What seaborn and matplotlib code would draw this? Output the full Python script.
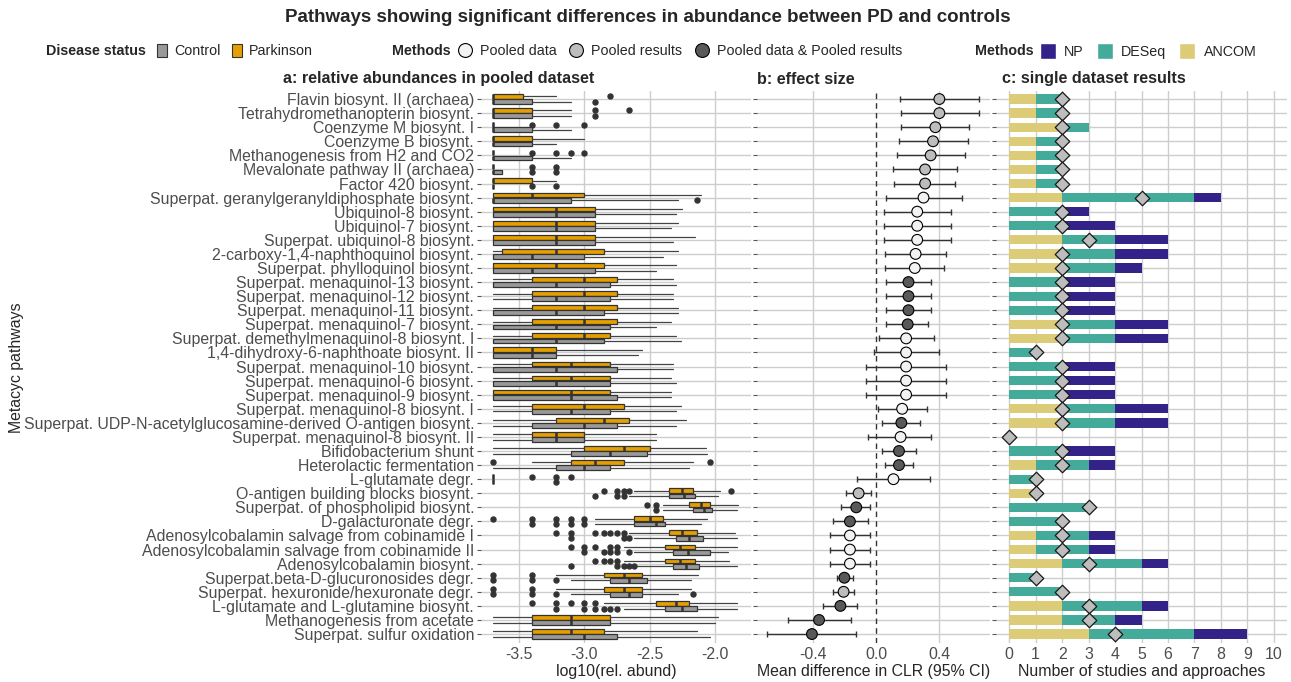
import numpy as np
import pandas as pd
import seaborn as sns
import matplotlib.pyplot as plt
from matplotlib.patches import Patch
from matplotlib.lines import Line2D

# ---- data -------------------------------------------------------------
pathways = [
    "Flavin biosynt. II (archaea)", "Tetrahydromethanopterin biosynt.",
    "Coenzyme M biosynt. I", "Coenzyme B biosynt.",
    "Methanogenesis from H2 and CO2", "Mevalonate pathway II (archaea)",
    "Factor 420 biosynt.", "Superpat. geranylgeranyldiphosphate biosynt.",
    "Ubiquinol-8 biosynt.", "Ubiquinol-7 biosynt.",
    "Superpat. ubiquinol-8 biosynt.", "2-carboxy-1,4-naphthoquinol biosynt.",
    "Superpat. phylloquinol biosynt.", "Superpat. menaquinol-13 biosynt.",
    "Superpat. menaquinol-12 biosynt.", "Superpat. menaquinol-11 biosynt.",
    "Superpat. menaquinol-7 biosynt.", "Superpat. demethylmenaquinol-8 biosynt. I",
    "1,4-dihydroxy-6-naphthoate biosynt. II", "Superpat. menaquinol-10 biosynt.",
    "Superpat. menaquinol-6 biosynt.", "Superpat. menaquinol-9 biosynt.",
    "Superpat. menaquinol-8 biosynt. I",
    "Superpat. UDP-N-acetylglucosamine-derived O-antigen biosynt.",
    "Superpat. menaquinol-8 biosynt. II", "Bifidobacterium shunt",
    "Heterolactic fermentation", "L-glutamate degr.",
    "O-antigen building blocks biosynt.", "Superpat. of phospholipid biosynt.",
    "D-galacturonate degr.", "Adenosylcobalamin salvage from cobinamide I",
    "Adenosylcobalamin salvage from cobinamide II", "Adenosylcobalamin biosynt.",
    "Superpat.beta-D-glucuronosides degr.", "Superpat. hexuronide/hexuronate degr.",
    "L-glutamate and L-glutamine biosynt.", "Methanogenesis from acetate",
    "Superpat. sulfur oxidation",
]

# panel a: box statistics, log10(rel. abund), Parkinson (pd) and Control (ctl)
pd_q1 = [-3.70, -3.70, -3.70, -3.70, -3.70, -3.70, -3.70, -3.70, -3.70, -3.70,
         -3.70, -3.63, -3.70, -3.40, -3.40, -3.40, -3.40, -3.40, -3.70, -3.40,
         -3.40, -3.70, -3.40, -3.22, -3.40, -3.00, -3.10, -3.70, -2.35, -2.20,
         -2.62, -2.35, -2.38, -2.38, -2.85, -2.85, -2.45, -3.40, -3.40]
pd_med = [-3.70, -3.70, -3.70, -3.70, -3.70, -3.70, -3.70, -3.40, -3.22, -3.22,
          -3.22, -3.22, -3.22, -3.00, -3.00, -3.00, -3.00, -3.00, -3.40, -3.10,
          -3.10, -3.10, -3.00, -2.85, -3.22, -2.70, -2.92, -3.70, -2.25, -2.11,
          -2.50, -2.25, -2.27, -2.27, -2.70, -2.70, -2.30, -3.10, -3.10]
pd_q3 = [-3.47, -3.40, -3.70, -3.40, -3.70, -3.70, -3.40, -3.00, -2.92, -2.92,
         -2.92, -2.85, -2.85, -2.75, -2.75, -2.75, -2.75, -2.80, -3.22, -2.80,
         -2.80, -2.80, -2.70, -2.66, -3.00, -2.50, -2.70, -3.70, -2.17, -2.04,
         -2.40, -2.14, -2.15, -2.15, -2.56, -2.56, -2.20, -2.80, -2.85]
pd_lo = [-3.70, -3.70, -3.70, -3.70, -3.70, -3.70, -3.70, -3.70, -3.70, -3.70,
         -3.70, -3.70, -3.70, -3.70, -3.70, -3.70, -3.70, -3.70, -3.70, -3.70,
         -3.70, -3.70, -3.70, -3.70, -3.70, -3.70, -3.40, -3.70, -2.62, -2.40,
         -2.92, -2.66, -2.70, -2.70, -3.22, -3.22, -2.85, -3.70, -3.70]
pd_hi = [-3.22, -3.10, -3.70, -3.00, -3.70, -3.70, -3.22, -2.11, -2.25, -2.28,
         -2.15, -2.28, -2.30, -2.32, -2.32, -2.28, -2.34, -2.30, -2.56, -2.32,
         -2.34, -2.34, -2.26, -2.22, -2.45, -2.07, -2.17, -3.70, -1.96, -1.82,
         -2.06, -1.85, -1.83, -1.89, -2.13, -2.18, -1.83, -1.98, -2.14]
pd_fliers = [[-2.80], [-2.92, -2.66], [-3.40, -3.22, -3.00], [],
             [-3.40, -3.22, -3.10, -3.00], [-3.40, -3.22], [], [], [], [],
             [], [], [], [], [], [], [], [], [], [], [], [], [], [], [], [],
             [-3.70, -2.04], [-3.40, -3.22, -3.10],
             [-2.85, -2.75, -2.70, -2.66, -1.88], [-2.52, -2.45],
             [-3.70, -3.40, -3.22, -3.10, -3.00],
             [-3.22, -3.10, -2.92, -2.85, -2.80, -2.75, -2.70],
             [-3.10, -3.00, -2.92, -2.80, -2.75], [-2.92, -2.85, -2.80, -2.75],
             [-3.70, -3.40], [-3.70, -3.40],
             [-3.40, -3.22, -3.10, -3.00, -2.92], [], []]

ctl_q1 = [-3.70, -3.70, -3.70, -3.70, -3.70, -3.70, -3.70, -3.70, -3.70, -3.70,
          -3.70, -3.70, -3.70, -3.70, -3.40, -3.70, -3.70, -3.70, -3.70, -3.70,
          -3.70, -3.70, -3.40, -3.40, -3.40, -3.10, -3.22, -3.70, -2.35, -2.17,
          -2.62, -2.30, -2.32, -2.32, -2.80, -2.80, -2.38, -3.40, -3.40]
ctl_med = [-3.70, -3.70, -3.70, -3.70, -3.70, -3.70, -3.70, -3.70, -3.22, -3.22,
           -3.22, -3.40, -3.40, -3.22, -3.22, -3.22, -3.22, -3.22, -3.40, -3.22,
           -3.22, -3.10, -3.10, -3.00, -3.22, -2.80, -3.00, -3.70, -2.24, -2.08,
           -2.45, -2.20, -2.21, -2.22, -2.66, -2.66, -2.25, -3.10, -3.00]
ctl_q3 = [-3.40, -3.40, -3.40, -3.40, -3.40, -3.63, -3.70, -3.10, -2.92, -2.92,
          -2.92, -3.00, -2.92, -2.80, -2.80, -2.85, -2.80, -2.85, -3.22, -2.75,
          -2.80, -2.75, -2.80, -2.75, -3.00, -2.52, -2.80, -3.70, -2.15, -2.02,
          -2.38, -2.09, -2.04, -2.12, -2.52, -2.56, -2.14, -2.80, -2.75]
ctl_lo = [-3.70] * 28 + [-2.66, -2.40, -2.92, -2.62, -2.62, -2.62,
                         -3.10, -3.10, -2.70, -3.70, -3.70]
ctl_hi = [-3.10, -3.10, -3.10, -3.22, -3.10, -3.63, -3.70, -2.28, -2.30, -2.34,
          -2.32, -2.40, -2.45, -2.30, -2.32, -2.28, -2.45, -2.26, -2.59, -2.32,
          -2.30, -2.34, -2.30, -2.30, -2.45, -2.06, -2.20, -3.70, -1.98, -1.83,
          -2.11, -1.83, -1.90, -1.83, -2.18, -2.28, -1.83, -2.00, -2.04]
ctl_fliers = [[-2.92], [-2.92], [], [], [], [-3.40, -3.22], [-3.40, -3.22],
              [-2.14], [], [], [], [], [], [], [], [], [], [], [], [], [], [],
              [], [], [], [], [], [-3.22], [-2.92, -2.75, -2.70], [-2.45],
              [-3.40, -3.22, -3.10, -3.00], [-3.10, -2.70, -2.66],
              [-3.00, -2.85, -2.80, -2.75, -2.66],
              [-3.10, -2.75, -2.70, -2.66, -2.62], [-3.70, -3.40, -3.22],
              [-3.70, -3.40, -3.22, -2.17],
              [-3.22, -3.00, -2.92, -2.85, -2.80, -2.75], [], []]

# panel b: effect size (mean difference in CLR, 95% CI)
effect = [0.40, 0.40, 0.375, 0.36, 0.345, 0.31, 0.31, 0.30, 0.26, 0.26,
          0.26, 0.25, 0.245, 0.205, 0.205, 0.205, 0.20, 0.19, 0.19, 0.19,
          0.19, 0.19, 0.165, 0.16, 0.155, 0.145, 0.145, 0.11, -0.11, -0.125,
          -0.165, -0.165, -0.165, -0.165, -0.20, -0.205, -0.225, -0.36, -0.405]
ci_lo = [0.15, 0.155, 0.16, 0.145, 0.13, 0.11, 0.115, 0.065, 0.05, 0.05,
         0.05, 0.055, 0.055, 0.065, 0.065, 0.065, 0.065, 0.02, -0.01, -0.065,
         -0.065, -0.065, 0.015, 0.04, -0.05, 0.04, 0.055, -0.12, -0.19, -0.22,
         -0.275, -0.29, -0.29, -0.29, -0.245, -0.275, -0.335, -0.555, -0.69]
ci_hi = [0.65, 0.65, 0.59, 0.58, 0.56, 0.51, 0.50, 0.54, 0.475, 0.475,
         0.475, 0.44, 0.43, 0.345, 0.345, 0.345, 0.33, 0.365, 0.40, 0.445,
         0.445, 0.445, 0.32, 0.28, 0.35, 0.25, 0.235, 0.34, -0.03, -0.035,
         -0.05, -0.035, -0.035, -0.035, -0.145, -0.14, -0.12, -0.16, -0.125]
R, D, B = "Pooled results", "Pooled data", "Pooled data & Pooled results"
method = [R, R, R, R, R, R, R, D, D, D, D, D, D, B, B, B, B, D, D, D,
          D, D, D, B, D, B, B, D, R, B, B, D, D, D, B, R, B, B, B]

# panel c: single dataset results
ancom = [1, 1, 2, 1, 1, 1, 1, 2, 0, 0, 2, 2, 2, 0, 0, 0, 2, 2, 0, 0,
         0, 0, 2, 2, 0, 0, 1, 0, 1, 0, 0, 1, 1, 2, 0, 0, 2, 2, 3]
deseq = [1, 1, 1, 1, 1, 1, 1, 5, 2, 2, 2, 2, 2, 2, 2, 2, 2, 2, 1, 2,
         2, 2, 2, 2, 0, 2, 2, 1, 0, 3, 2, 2, 2, 3, 1, 2, 3, 2, 4]
np_ = [0, 0, 0, 0, 0, 0, 0, 1, 1, 2, 2, 2, 1, 2, 2, 2, 2, 2, 0, 2,
       2, 2, 2, 2, 0, 2, 1, 0, 0, 0, 0, 1, 1, 1, 0, 0, 1, 1, 2]
n_studies = [2, 2, 2, 2, 2, 2, 2, 5, 2, 2, 3, 2, 2, 2, 2, 2, 2, 2, 1, 2,
             2, 2, 2, 2, 0, 2, 2, 1, 1, 3, 2, 2, 2, 3, 1, 2, 3, 3, 4]

# ---- style ------------------------------------------------------------
sns.set_theme(style="white")
plt.rcParams['font.family'] = ['Liberation Sans', 'DejaVu Sans']
plt.rcParams['axes.unicode_minus'] = False

c_pd, c_ctl = "#E69F00", "#999999"
pt_pal = {D: "#F2F2F2", R: "#BDBDBD", B: "#595959"}
c_np, c_deseq, c_ancom = "#332288", "#44AA99", "#DDCC77"
grid_c = "#CDCDCD"
txt_c = "#4D4D4D"
fs_tick = 11.4
fs_lab = 11.4
fs_leg = 10.3

W, H = 1291, 682
fig = plt.figure(figsize=(W / 100, H / 100), dpi=100)


def px_rect(x0, x1, y0, y1):
    return [x0 / W, 1 - y1 / H, (x1 - x0) / W, (y1 - y0) / H]


ax_a = fig.add_axes(px_rect(481, 751, 90.6, 642.5))
ax_b = fig.add_axes(px_rect(757, 990, 90.6, 642.5))
ax_c = fig.add_axes(px_rect(996, 1287, 90.6, 642.5))

rows = np.arange(len(pathways))

# ---- panel a: boxplots --------------------------------------------------
def box_stats(q1, med, q3, lo, hi, fl):
    return [dict(q1=a, med=b, q3=c, whislo=d, whishi=e, fliers=f)
            for a, b, c, d, e, f in zip(q1, med, q3, lo, hi, fl)]


for stats, col, off in [(box_stats(pd_q1, pd_med, pd_q3, pd_lo, pd_hi, pd_fliers), c_pd, -0.1875),
                        (box_stats(ctl_q1, ctl_med, ctl_q3, ctl_lo, ctl_hi, ctl_fliers), c_ctl, 0.1875)]:
    ax_a.bxp(stats, positions=rows + off, widths=0.34, orientation='horizontal',
             patch_artist=True, showcaps=False, manage_ticks=False,
             boxprops=dict(facecolor=col, edgecolor="#333333", linewidth=0.9),
             medianprops=dict(color="#333333", linewidth=1.8),
             whiskerprops=dict(color="#444444", linewidth=0.9),
             flierprops=dict(marker='o', markerfacecolor="#333333",
                             markeredgecolor="#333333", markersize=3.6))

ax_a.set_xlim(-3.791, -1.724)
ax_a.set_xticks([-3.5, -3.0, -2.5, -2.0])
ax_a.set_xticklabels(["-3.5", "-3.0", "-2.5", "-2.0"])
ax_a.set_xlabel("log10(rel. abund)", fontsize=fs_lab, labelpad=2)

# ---- panel b: effect size -----------------------------------------------
eff = np.array(effect)
ax_b.errorbar(eff, rows, xerr=[eff - np.array(ci_lo), np.array(ci_hi) - eff],
              fmt='none', ecolor="#333333", elinewidth=1.0, capsize=2, capthick=1.0,
              zorder=2)
sns.scatterplot(x=effect, y=rows, hue=method, palette=pt_pal, s=60,
                edgecolor="black", linewidth=0.8, legend=False, zorder=3, ax=ax_b)
ax_b.axvline(0, color="#333333", lw=1.0, ls=(0, (4, 3)), zorder=1)
ax_b.set_xlim(-0.752, 0.720)
ax_b.set_xticks([-0.4, 0.0, 0.4])
ax_b.set_xticklabels(["-0.4", "0.0", "0.4"])
ax_b.set_xlabel("Mean difference in CLR (95% CI)", fontsize=fs_lab, labelpad=2)

# ---- panel c: stacked bars ----------------------------------------------
tot3 = np.array(ancom) + np.array(deseq) + np.array(np_)
tot2 = np.array(ancom) + np.array(deseq)
for vals, col in [(tot3, c_np), (tot2, c_deseq), (np.array(ancom), c_ancom)]:
    sns.barplot(x=vals, y=rows, orient='h', color=col, saturation=1, width=0.66,
                linewidth=0, ax=ax_c, zorder=2)
sns.scatterplot(x=n_studies, y=rows, marker='D', s=55, color="#BDBDBD",
                edgecolor="#1a1a1a", linewidth=0.9, zorder=4, ax=ax_c, legend=False)
ax_c.set_xlim(-0.5, 10.5)
ax_c.set_xticks(range(11))
ax_c.set_xlabel("Number of studies and approaches", fontsize=fs_lab, labelpad=2)

# ---- shared axis styling ----------------------------------------------
for ax in (ax_a, ax_b, ax_c):
    ax.set_ylim(len(pathways) - 0.4, -0.6)
    ax.set_yticks(rows)
    ax.set_axisbelow(True)
    ax.grid(True, color=grid_c, lw=1.0)
    for s in ax.spines.values():
        s.set_visible(False)
    ax.tick_params(axis='x', length=0, labelsize=fs_tick, labelcolor=txt_c, pad=3)
    ax.tick_params(axis='y', length=3, width=0.8, color="#555555", labelsize=fs_tick,
                   labelcolor=txt_c, pad=2, left=True)
    ax.set_ylabel("")
ax_a.set_yticklabels(pathways)
ax_b.set_yticklabels([])
ax_c.set_yticklabels([])

# remove the 0.0 grid line behind the dashed line in panel b
for gl, t in zip(ax_b.get_xgridlines(), [-0.4, 0.0, 0.4]):
    if t == 0.0:
        gl.set_visible(False)

# ---- texts --------------------------------------------------------------
fig.text(648 / W, 1 - 17 / H,
         "Pathways showing significant differences in abundance between PD and controls",
         ha='center', va='center', fontsize=13.5, weight='bold')
fig.text(283 / W, 1 - 79 / H, "a: relative abundances in pooled dataset",
         ha='left', va='center', fontsize=11.6, weight='bold')
fig.text(757 / W, 1 - 79 / H, "b: effect size", ha='left', va='center',
         fontsize=11.6, weight='bold')
fig.text(1002 / W, 1 - 79 / H, "c: single dataset results", ha='left',
         va='center', fontsize=11.6, weight='bold')
fig.text(17 / W, 1 - 368 / H, "Metacyc pathways", rotation=90, ha='center',
         va='center', fontsize=fs_lab)

# ---- legends ------------------------------------------------------------
ly = 1 - 51 / H
leg_kw = dict(loc='center left', frameon=False, fontsize=fs_leg, borderpad=0,
              borderaxespad=0)

fig.text(46 / W, ly, "Disease status", weight='bold', fontsize=fs_leg, va='center')
fig.legend(handles=[Patch(fc=c_ctl, ec="#333333", lw=0.8, label="Control"),
                    Patch(fc=c_pd, ec="#333333", lw=0.8, label="Parkinson")],
           bbox_to_anchor=(157 / W, ly), ncol=2, handlelength=0.7,
           handleheight=1.0, handletextpad=0.5, columnspacing=0.8, **leg_kw)

fig.text(392 / W, ly, "Methods", weight='bold', fontsize=fs_leg, va='center')
fig.legend(handles=[Line2D([], [], ls='', marker='o', ms=10, mfc=pt_pal[k],
                           mec='black', mew=0.8, label=k) for k in (D, R, B)],
           bbox_to_anchor=(458 / W, ly), ncol=3, handlelength=1.0,
           handletextpad=0.55, columnspacing=0.85, **leg_kw)

fig.text(975 / W, ly, "Methods", weight='bold', fontsize=fs_leg, va='center')
fig.legend(handles=[Patch(fc=c_np, label="NP"), Patch(fc=c_deseq, label="DESeq"),
                    Patch(fc=c_ancom, label="ANCOM")],
           bbox_to_anchor=(1040 / W, ly), ncol=3, handlelength=1.1,
           handleheight=1.3, handletextpad=0.6, columnspacing=0.9, **leg_kw)

fig.savefig("out.png", dpi=100)
